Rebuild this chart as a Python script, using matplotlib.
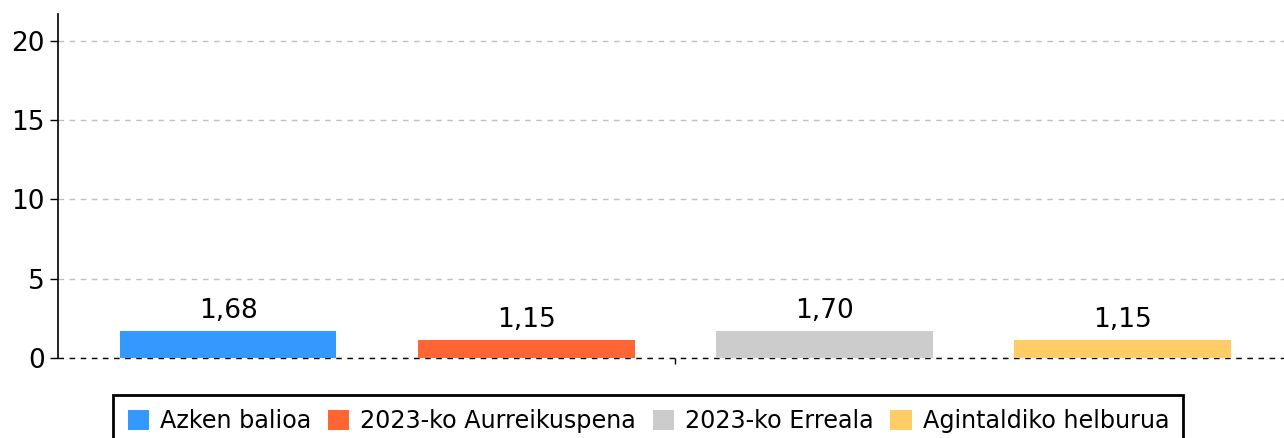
import matplotlib
matplotlib.use("Agg")
import matplotlib.pyplot as plt
import numpy as np

series = ["Azken balioa", "2023-ko Aurreikuspena", "2023-ko Erreala", "Agintaldiko helburua"]
values = [1.68, 1.15, 1.70, 1.15]
labels = ["1,68", "1,15", "1,70", "1,15"]
colors = ["#3399FF", "#FF6633", "#CCCCCC", "#FFCC66"]

fig = plt.figure(figsize=(12.84, 4.38), dpi=100)
ax = fig.add_axes([58 / 1284, 1 - 358 / 438, 1 - 58 / 1284, (358 - 14) / 438])

offsets = np.arange(len(series)) - 1.5
width = 0.727
for off, val, lab, col, name in zip(offsets, values, labels, colors, series):
    ax.bar(off, val, width=width, color=col, label=name, zorder=3)
    ax.annotate(lab, (off, val), xytext=(0, 5), textcoords="offset points",
                ha="center", va="bottom", fontsize=19, zorder=4)

ax.set_xlim(-2.07, 2.04)
ax.set_ylim(0, 21.7)
ax.set_yticks([0, 5, 10, 15, 20])
ax.set_xticks([0])
ax.set_xticklabels([""])
ax.tick_params(axis="y", labelsize=19, length=6, width=1)
ax.tick_params(axis="x", length=4, width=1)

ax.grid(axis="y", linestyle=(0, (4, 4)), color="#c0c0c0", linewidth=1, zorder=0)
ax.axhline(0, color="black", linestyle=(0, (4, 4)), linewidth=1, zorder=2, clip_on=False)

for s in ["top", "right", "bottom"]:
    ax.spines[s].set_visible(False)
ax.spines["left"].set_linewidth(1.2)

leg = fig.legend(loc="upper center", bbox_to_anchor=(0.505, 1 - 395 / 438), ncol=4,
                 fontsize=17.2, frameon=True, fancybox=False, edgecolor="black",
                 framealpha=1, handlelength=0.9, handleheight=0.9, handletextpad=0.45,
                 columnspacing=0.7, borderpad=0.6, borderaxespad=0)
leg.get_frame().set_linewidth(2)

fig.savefig("out.png", dpi=100)
